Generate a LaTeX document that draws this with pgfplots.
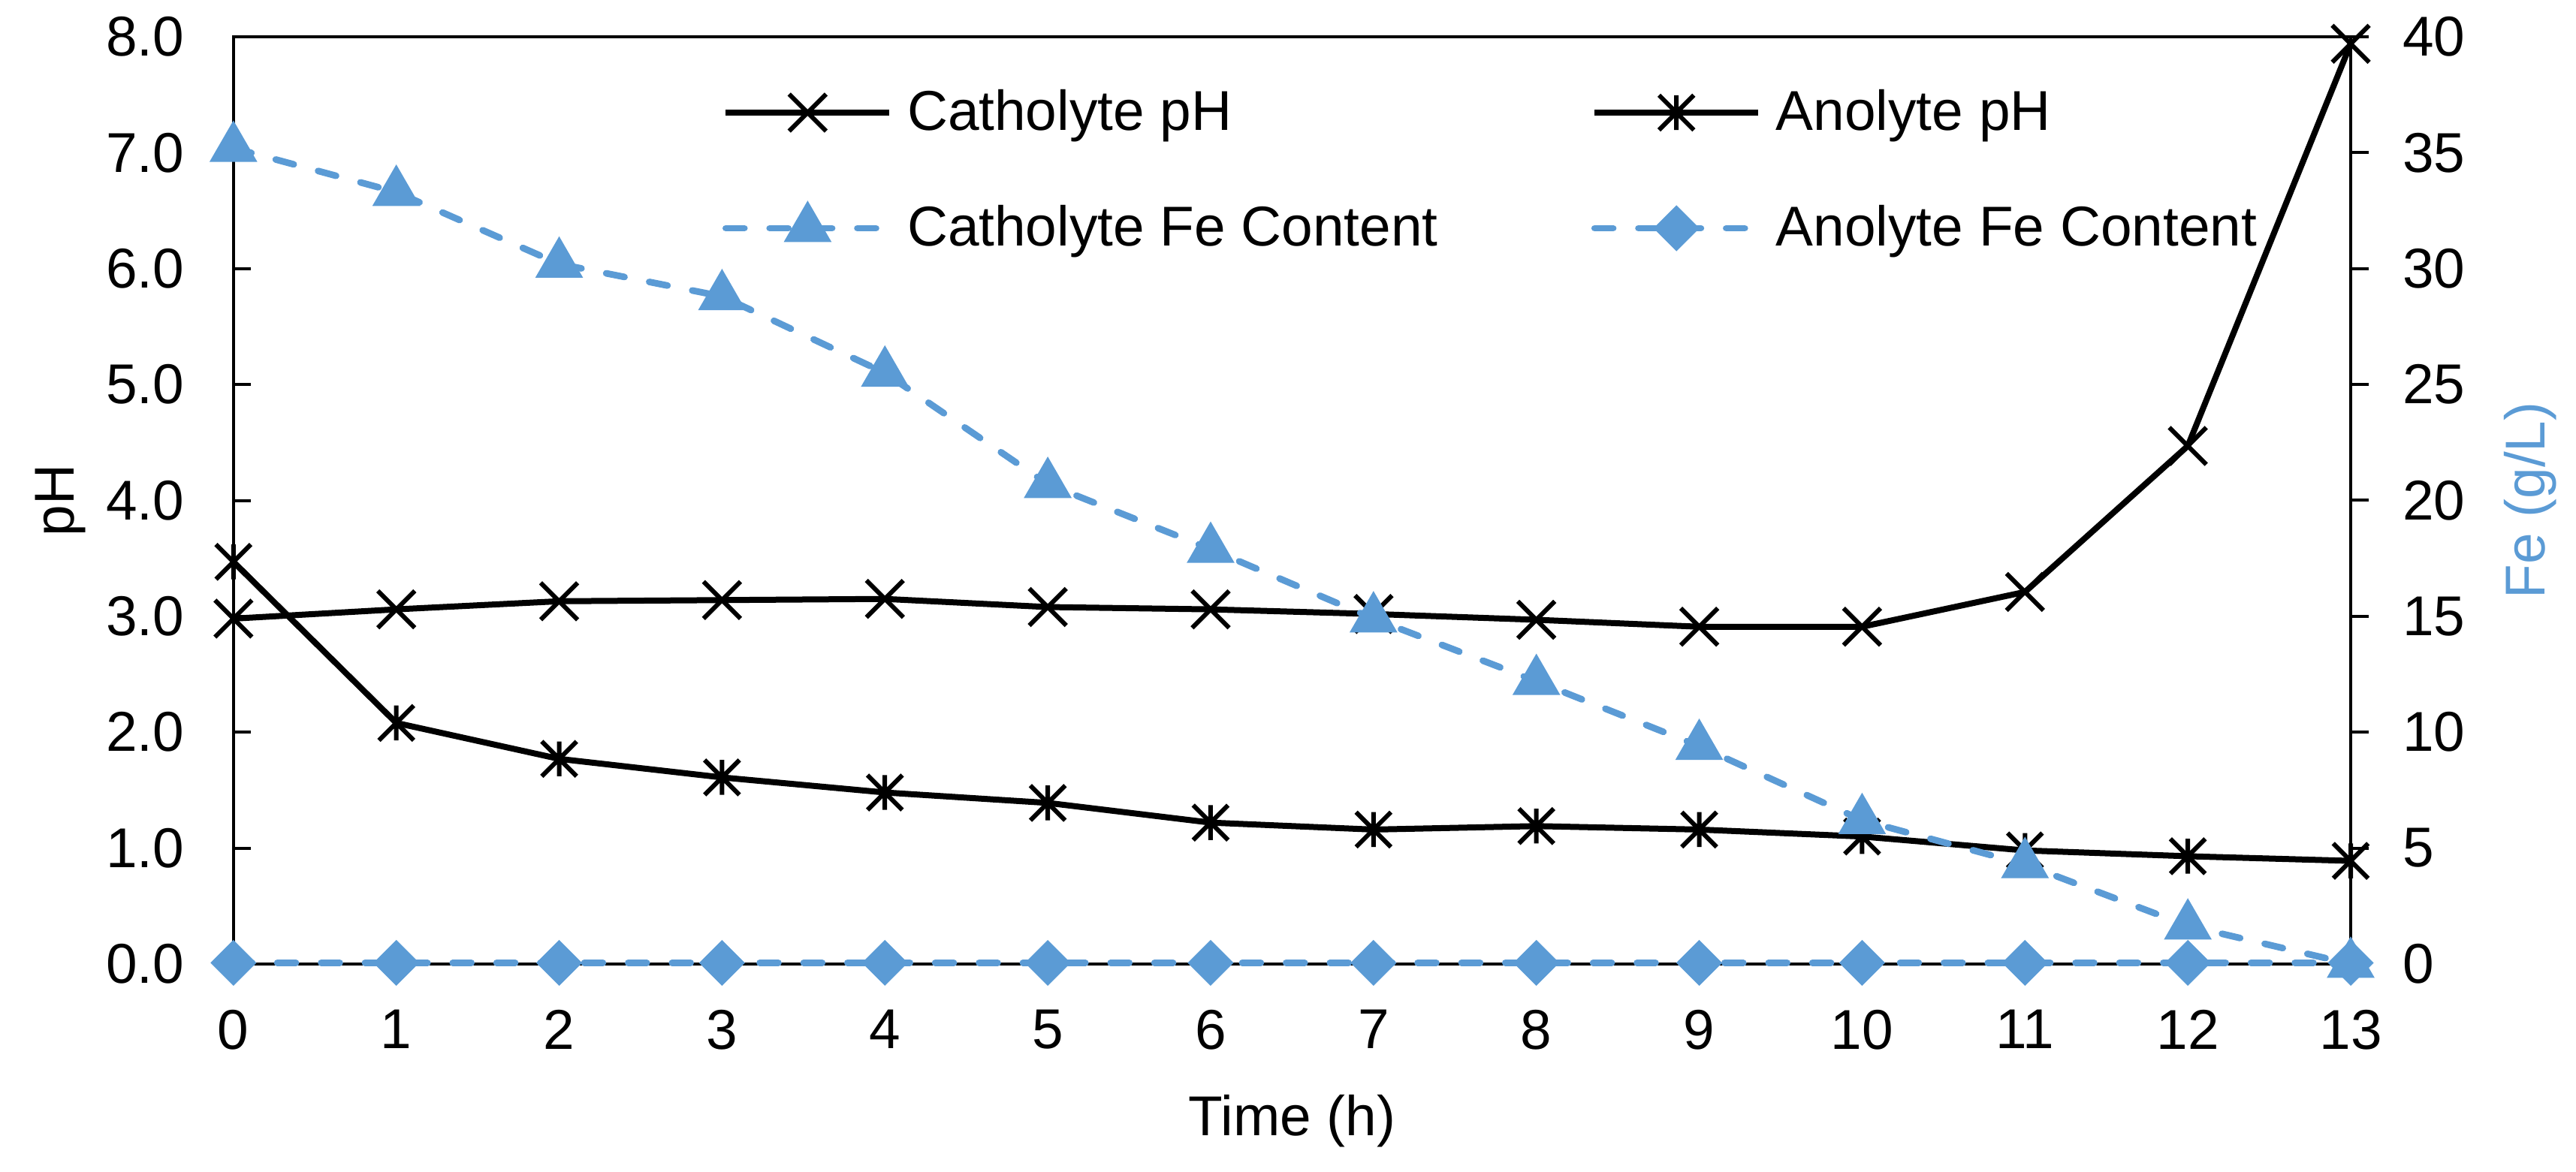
\documentclass[border=0pt]{standalone}
\usepackage{fontspec}
\setmainfont{Liberation Sans}
\usepackage{pgfplots}
\pgfplotsset{compat=1.18}
\definecolor{fe}{HTML}{5B9BD5}
\pgfdeclareplotmark{xstar}{%
  \pgfpathmoveto{\pgfqpoint{-\pgfplotmarksize}{-\pgfplotmarksize}}%
  \pgfpathlineto{\pgfqpoint{\pgfplotmarksize}{\pgfplotmarksize}}%
  \pgfpathmoveto{\pgfqpoint{-\pgfplotmarksize}{\pgfplotmarksize}}%
  \pgfpathlineto{\pgfqpoint{\pgfplotmarksize}{-\pgfplotmarksize}}%
  \pgfpathmoveto{\pgfqpoint{0pt}{-\pgfplotmarksize}}%
  \pgfpathlineto{\pgfqpoint{0pt}{\pgfplotmarksize}}%
  \pgfusepathqstroke}
\pgfplotsset{
  cph/.style={black, line width=2pt, line join=round, mark=x, mark size=8.7pt, mark options={solid, line width=1.5pt}},
  aph/.style={black, line width=2pt, line join=round, mark=xstar, mark size=5.8pt, mark options={solid, line width=1.5pt}},
  cfe/.style={fe, line width=2.2pt, line cap=round, dash pattern=on 6.2pt off 8.4pt, mark=triangle*, mark size=7pt, mark options={solid, fill=fe, draw=none}},
  afe/.style={fe, line width=2.2pt, line cap=round, dash pattern=on 6.2pt off 8.4pt, mark=square*, mark size=4.3pt, mark options={solid, fill=fe, draw=none, rotate=45}},
  common/.style={
    at={(0,0)}, anchor=south west,
    scale only axis, width=704.8pt, height=308.75pt,
    xmin=0, xmax=13, clip=false,
    /pgf/number format/assume math mode=true,
  },
}
\begin{document}
\fontsize{18.7}{22.4}\selectfont
\begin{tikzpicture}
\begin{axis}[common,
  ymin=0, ymax=8,
  xtick={0,...,13}, ytick={0,...,8},
  axis line style={line width=1pt, black},
  xtick style={draw=none},
  ytick style={line width=1pt, black},
  tick align=inside, major tick length=5.75pt,
  xtick pos=bottom, ytick pos=left,
  yticklabel style={/pgf/number format/fixed, /pgf/number format/fixed zerofill, /pgf/number format/precision=1, anchor=east, inner sep=0pt, xshift=-16.2pt},
  xticklabel style={anchor=north, inner sep=0pt, yshift=-15pt},
  xlabel={Time (h)}, ylabel={pH},
  every axis x label/.style={at={(axis description cs:0.5,0)}, anchor=center, yshift=-52.25pt},
  every axis y label/.style={at={(axis description cs:0,0.5)}, xshift=-57.6pt, rotate=90, anchor=center},
]
\addplot[cph] coordinates {(0,2.98) (1,3.06) (2,3.13) (3,3.14) (4,3.15) (5,3.08) (6,3.06) (7,3.02) (8,2.97) (9,2.91) (10,2.91) (11,3.21) (12,4.47) (13,7.94)};
\addplot[aph] coordinates {(0,3.47) (1,2.08) (2,1.77) (3,1.61) (4,1.48) (5,1.39) (6,1.22) (7,1.16) (8,1.19) (9,1.16) (10,1.10) (11,0.98) (12,0.93) (13,0.89)};
\end{axis}
\begin{axis}[common,
  ymin=0, ymax=40,
  axis x line=none, axis y line*=right,
  ytick={0,5,...,40},
  axis line style={line width=1pt, black},
  ytick style={line width=1pt, black},
  tick align=outside, major tick length=6pt,
  yticklabel style={anchor=west, inner sep=0pt, xshift=11.1pt},
  ylabel={Fe (g/L)},
  every axis y label/.style={at={(axis description cs:1,0.5)}, xshift=59.75pt, rotate=90, anchor=center, color=fe},
  legend columns=2,
  legend cell align=left,
  legend image code/.code={\draw[mark repeat=2,mark phase=2,#1] plot coordinates {(0pt,0pt) (27.25pt,0pt) (54.5pt,0pt)};},
  legend style={draw=none, fill=none, inner sep=0pt, outer sep=0pt,
    at={(axis description cs:0,1)}, anchor=north west, xshift=162.8pt, yshift=-15.35pt,
    nodes={inner sep=0pt, text height=15.8pt, text depth=4pt},
    row sep=18.7pt,
    /tikz/every odd column/.append style={column sep=4.8pt},
    /tikz/every even column/.append style={column sep=51pt},
    font=\fontsize{18.7}{22.4}\selectfont},
]
\addlegendimage{cph}
\addlegendentry{Catholyte pH}
\addlegendimage{aph}
\addlegendentry{Anolyte pH}
\addplot[cfe] coordinates {(0,35.2) (1,33.3) (2,30.2) (3,28.8) (4,25.5) (5,20.7) (6,17.9) (7,14.9) (8,12.2) (9,9.4) (10,6.2) (11,4.3) (12,1.65) (13,0)};
\addlegendentry{Catholyte Fe Content}
\addplot[afe] coordinates {(0,0.05) (1,0.05) (2,0.05) (3,0.05) (4,0.05) (5,0.05) (6,0.05) (7,0.05) (8,0.05) (9,0.05) (10,0.05) (11,0.05) (12,0.05) (13,0.05)};
\addlegendentry{Anolyte Fe Content}
\end{axis}
\pgfresetboundingbox
\path[use as bounding box] (-77.7pt,-69.25pt) rectangle (779.8pt,321pt);
\end{tikzpicture}
\end{document}
